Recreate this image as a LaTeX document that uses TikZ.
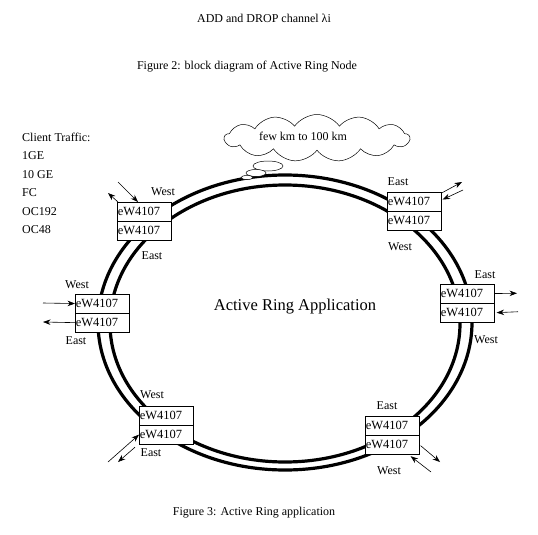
\documentclass[tikz,border=0pt]{standalone}
\usepackage{fontspec}
\setmainfont{Liberation Serif}
\usetikzlibrary{arrows.meta,shapes.symbols,calc}
\begin{document}
\begin{tikzpicture}[x=1pt,y=-1pt,
  cell/.style={draw,fill=white,line width=0.6pt,minimum width=54pt,minimum height=18.5pt,
    inner sep=0.5pt,anchor=north west,text width=53pt,align=left,font=\fontsize{12.5}{14}\selectfont},
  lbl/.style={font=\fontsize{12}{14}\selectfont,inner sep=0pt},
  arr/.style={line width=0.6pt,-{Stealth[length=7.5pt,width=5.5pt]}},
  ring/.style={line width=3.2pt},
  bubble/.style={draw,fill=white,line width=0.5pt}]
\useasboundingbox (0,0) rectangle (538,535);

% titles
\node[lbl] (t1) at (264,18) {ADD and DROP channel λi};
\node[lbl] (t2) at (247,67) {Figure 2: block diagram of Active Ring Node};
\node[lbl] (t3) at (254,513) {Figure 3: Active Ring application};

% client traffic list
\node[lbl,anchor=base west] (c0) at (22,141) {Client Traffic:};
\node[lbl,anchor=base west] (c1) at (22,159.5) {1GE};
\node[lbl,anchor=base west] (c2) at (22,178) {10 GE};
\node[lbl,anchor=base west] (c3) at (22,196.5) {FC};
\node[lbl,anchor=base west] (c4) at (22,215) {OC192};
\node[lbl,anchor=base west] (c5) at (22,233.5) {OC48};

% ring
\draw[ring] (285,322.5) ellipse [x radius=187, y radius=147.5];
\draw[ring] (285,323.5) ellipse [x radius=175, y radius=138.5];

\node[font=\fontsize{16.5}{18}\selectfont,inner sep=0pt] (app) at (295,307) {Active Ring Application};

% cloud
\node[cloud,draw,fill=white,line width=0.5pt,cloud puffs=13,cloud puff arc=110,aspect=3.9,
  minimum width=185pt,minimum height=47pt,inner sep=0pt] (cloud) at (317,138) {};
\node[lbl] (cloudtxt) at (303,136) {few km to 100 km};
\draw[bubble] (268,166) ellipse [x radius=15, y radius=5];
\draw[bubble] (256,173) ellipse [x radius=10, y radius=3.5];
\draw[bubble] (247,177.5) ellipse [x radius=6, y radius=2];

% top-left node
\node[cell] (tla) at (117,202) {eW4107};
\node[cell] (tlb) at (tla.south west) {eW4107};
\node[lbl] (tlw) at (163,192) {West};
\node[lbl] (tle) at (152,256) {East};
\coordinate (tlin) at (118,182);
\coordinate (tlout) at (108,193);
\draw[arr] (tlin) -- ($(tla.north west)+(21,0)$);
\draw[arr] ($(tla.north west)+(1,0)$) -- (tlout);

% top-right node
\node[cell] (tra) at (387,192) {eW4107};
\node[cell] (trb) at (tra.south west) {eW4107};
\node[lbl] (tre) at (398,182) {East};
\node[lbl] (trw) at (400,247) {West};
\coordinate (trout) at (462,182);
\coordinate (trin) at (463,190);
\draw[arr] ($(tra.north east)+(0,1)$) -- (trout);
\draw[arr] (trin) -- ($(tra.east)+(1,-2)$);

% left node
\node[cell] (la) at (75,294) {eW4107};
\node[cell] (lb) at (la.south west) {eW4107};
\node[lbl] (lw) at (77,285) {West};
\node[lbl] (le) at (76,341) {East};
\coordinate (lin) at (43,303);
\coordinate (lout) at (43,322);
\draw[arr] (lin) -- (la.west);
\draw[arr] (lb.west) -- (lout);

% right node
\node[cell] (ra) at (440,284) {eW4107};
\node[cell] (rb) at (ra.south west) {eW4107};
\node[lbl] (re) at (485,275) {East};
\node[lbl] (rw) at (486,340) {West};
\coordinate (rout) at (517,293.25);
\coordinate (rin) at (518,311.75);
\draw[arr] (ra.east) -- (rout);
\draw[arr] (rin) -- ($(rb.east)+(2,0)$);

% bottom-left node
\node[cell] (bla) at (139,406) {eW4107};
\node[cell] (blb) at (bla.south west) {eW4107};
\node[lbl] (blw) at (152,395) {West};
\node[lbl] (ble) at (151,453) {East};
\coordinate (blin) at (108,462);
\coordinate (blout) at (118,462);
\draw[arr] (blin) -- (blb.west);
\draw[arr] ($(blb.south west)+(-4,3)$) -- (blout);

% bottom-right node
\node[cell] (bra) at (365,416) {eW4107};
\node[cell] (brb) at (bra.south west) {eW4107};
\node[lbl] (bre) at (387,406) {East};
\node[lbl] (brw) at (389,471) {West};
\coordinate (brout) at (440,462);
\coordinate (brin) at (431,472);
\draw[arr] ($(brb.east)+(1,1)$) -- (brout);
\draw[arr] (brin) -- ($(brb.south east)+(-9,2)$);
\end{tikzpicture}
\end{document}
